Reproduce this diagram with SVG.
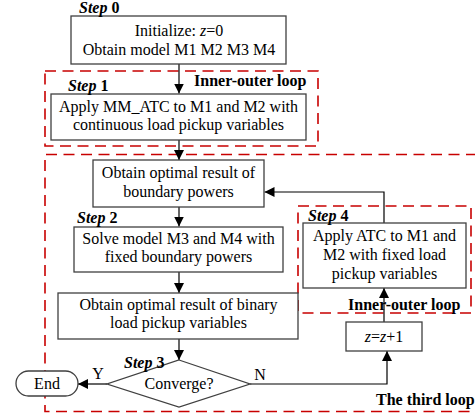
<svg xmlns="http://www.w3.org/2000/svg" width="475" height="415" viewBox="0 0 475 415">
<defs>
<marker id="ah" markerUnits="userSpaceOnUse" markerWidth="10" markerHeight="10" refX="10" refY="5" orient="auto">
<path d="M0,0 L10,5 L0,10 z" fill="#000"/>
</marker>
<style>
.box{fill:#fff;stroke:#404040;stroke-width:1.3}
.t{font-family:"Liberation Serif","Times New Roman",serif;font-size:16px;fill:#000;text-anchor:middle}
.lb{font-family:"Liberation Serif","Times New Roman",serif;font-size:16px;font-weight:bold;fill:#000}
.st{font-style:italic}
.loop{fill:none;stroke:#c80000;stroke-width:1.6;stroke-dasharray:11 6.5}
.ln{fill:none;stroke:#000;stroke-width:1.2}
</style>
</defs>
<g id="loops">
<rect class="loop" x="45" y="71" width="273" height="75"/>
<path class="loop" d="M477,154.5 H45 V411.5 H477"/>
<rect class="loop" x="298" y="206" width="173" height="107"/>
</g>
<g id="connectors">
<path class="ln" d="M179,64 V93.5" marker-end="url(#ah)"/>
<path class="ln" d="M179,140 V160" marker-end="url(#ah)"/>
<path class="ln" d="M179,207 V226.5" marker-end="url(#ah)"/>
<path class="ln" d="M179,272 V293" marker-end="url(#ah)"/>
<path class="ln" d="M179,339 V360" marker-end="url(#ah)"/>
<path class="ln" d="M107,384 H78" marker-end="url(#ah)"/>
<path class="ln" d="M250,384 H387 V351" marker-end="url(#ah)"/>
<path class="ln" d="M384,322 V288" marker-end="url(#ah)"/>
<path class="ln" d="M384,223 V192 H264.5" marker-end="url(#ah)"/>
<text class="t" x="98" y="379">Y</text>
<text class="t" x="260" y="380">N</text>
</g>
<g id="step0">
<rect class="box" x="71" y="16" width="215" height="48"/>
<text class="lb" x="79" y="13"><tspan class="st">Step</tspan> 0</text>
<text class="t" x="179" y="36">Initialize: <tspan font-style="italic">z</tspan>=0</text>
<text class="t" x="179" y="55">Obtain model M1 M2 M3 M4</text>
</g>
<g id="step1">
<rect class="box" x="51" y="94" width="255" height="46"/>
<text class="lb" x="68" y="91"><tspan class="st">Step</tspan> 1</text>
<text class="t" x="178.5" y="112">Apply MM_ATC to M1 and M2 with</text>
<text class="t" x="178.5" y="130">continuous load pickup variables</text>
</g>
<text class="lb" x="194" y="86">Inner-outer loop</text>
<g id="boundary">
<rect class="box" x="93" y="160" width="171" height="47"/>
<text class="t" x="178.5" y="178">Obtain optimal result of</text>
<text class="t" x="178.5" y="197">boundary powers</text>
</g>
<g id="step2">
<rect class="box" x="74" y="227" width="209" height="45"/>
<text class="lb" x="77" y="223"><tspan class="st">Step</tspan> 2</text>
<text class="t" x="178.5" y="244">Solve model M3 and M4 with</text>
<text class="t" x="178.5" y="262">fixed boundary powers</text>
</g>
<g id="binary">
<rect class="box" x="58" y="293" width="240" height="46"/>
<text class="t" x="178.5" y="310">Obtain optimal result of binary</text>
<text class="t" x="178.5" y="328">load pickup variables</text>
</g>
<g id="step3">
<polygon class="box" points="179,360 250,384 179,407 107,384"/>
<text class="lb" x="124" y="368"><tspan class="st">Step</tspan> 3</text>
<text class="t" x="179" y="389">Converge?</text>
</g>
<g id="end">
<rect class="box" x="16" y="371" width="62" height="25" rx="12.5"/>
<text class="t" x="47" y="389">End</text>
</g>
<g id="step4">
<rect class="box" x="303" y="223" width="163" height="65"/>
<text class="lb" x="308" y="221"><tspan class="st">Step</tspan> 4</text>
<text class="t" x="384.5" y="241">Apply ATC to M1 and</text>
<text class="t" x="384.5" y="260">M2 with fixed load</text>
<text class="t" x="384.5" y="279">pickup variables</text>
</g>
<text class="lb" x="348" y="310">Inner-outer loop</text>
<g id="zinc">
<rect class="box" x="346" y="322" width="76" height="29"/>
<text class="t" x="384" y="342"><tspan font-style="italic">z</tspan>=<tspan font-style="italic">z</tspan>+1</text>
</g>
<text class="lb" x="376" y="405">The third loop</text>
</svg>
